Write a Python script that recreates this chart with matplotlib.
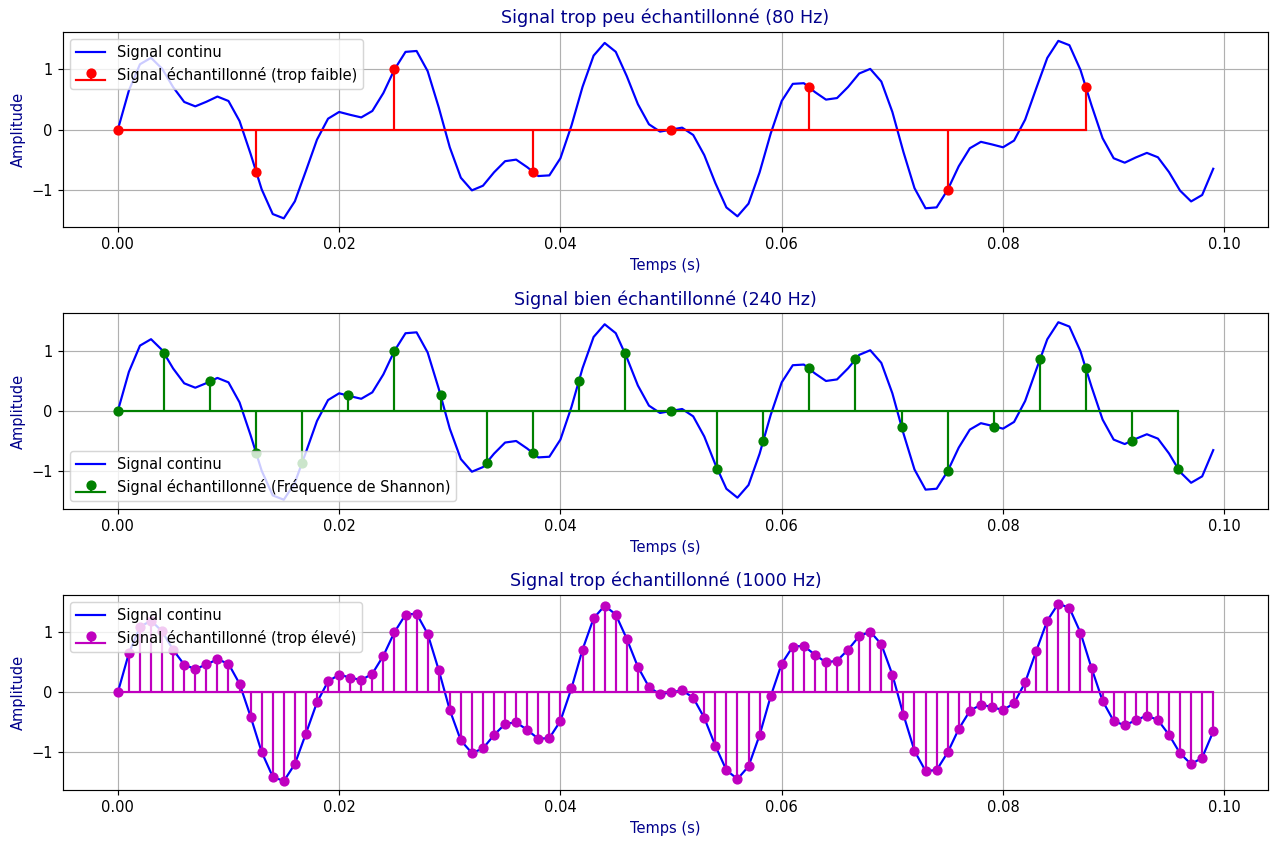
import numpy as np
import matplotlib
matplotlib.use("Agg")
import matplotlib.pyplot as plt

# Continuous signal, tabulated every millisecond (0 .. 0.099 s)
fs_cont = 1000
signal_continu = [
    0.000, 0.651, 1.087, 1.194, 1.014, 0.706, 0.460, 0.387, 0.463, 0.550,
    0.476, 0.143, -0.404, -0.993, -1.404, -1.476, -1.192, -0.685, -0.166, 0.182,
    0.294, 0.246, 0.203, 0.310, 0.609, 1.000, 1.293, 1.308, 0.973, 0.372,
    -0.294, -0.800, -1.010, -0.933, -0.710, -0.525, -0.499, -0.625, -0.772, -0.761,
    -0.476, 0.068, 0.712, 1.231, 1.442, 1.294, 0.888, 0.424, 0.089, -0.033,
    0.000, 0.033, -0.089, -0.424, -0.888, -1.294, -1.442, -1.231, -0.712, -0.068,
    0.476, 0.761, 0.772, 0.625, 0.499, 0.525, 0.710, 0.933, 1.010, 0.800,
    0.294, -0.372, -0.973, -1.308, -1.293, -1.000, -0.609, -0.310, -0.203, -0.246,
    -0.294, -0.182, 0.166, 0.685, 1.192, 1.476, 1.404, 0.993, 0.404, -0.143,
    -0.476, -0.550, -0.463, -0.387, -0.460, -0.706, -1.014, -1.194, -1.087, -0.651,
]

# Samples taken at 80 Hz
fs_faible = 80
ech_faible = [0.000, -0.707, 1.000, -0.707, 0.000, 0.707, -1.000, 0.707]

# Samples taken at 240 Hz
fs_shannon = 240
ech_shannon = [
    0.000, 0.966, 0.500, -0.707, -0.866, 0.259, 1.000, 0.259,
    -0.866, -0.707, 0.500, 0.966, 0.000, -0.966, -0.500, 0.707,
    0.866, -0.259, -1.000, -0.259, 0.866, 0.707, -0.500, -0.966,
]

# Samples taken at 1000 Hz (same instants as the tabulated signal)
fs_eleve = 1000
ech_eleve = list(signal_continu)

t_cont = np.arange(len(signal_continu)) / fs_cont
t_faible = np.arange(len(ech_faible)) / fs_faible
t_shannon = np.arange(len(ech_shannon)) / fs_shannon
t_eleve = np.arange(len(ech_eleve)) / fs_eleve

panels = [
    (t_faible, ech_faible, "r", "Signal échantillonné (trop faible)",
     "Signal trop peu échantillonné (80 Hz)", "upper left"),
    (t_shannon, ech_shannon, "g", "Signal échantillonné (Fréquence de Shannon)",
     "Signal bien échantillonné (240 Hz)", "lower left"),
    (t_eleve, ech_eleve, "m", "Signal échantillonné (trop élevé)",
     "Signal trop échantillonné (1000 Hz)", "upper left"),
]

dpi = 105
fig, axes = plt.subplots(3, 1, figsize=(1274 / dpi, 842 / dpi), dpi=dpi)
fig.subplots_adjust(left=0.0495, right=0.9953, top=0.962, bottom=0.0618, hspace=0.441)

text_color = "darkblue"
for ax, (ts, vals, c, lab, title, loc) in zip(axes, panels):
    ax.plot(t_cont, signal_continu, "b-", label="Signal continu")
    ax.stem(ts, vals, linefmt=c + "-", markerfmt=c + "o", basefmt=c + "-", label=lab)
    ax.set_title(title, color=text_color)
    ax.set_xlabel("Temps (s)", color=text_color)
    ax.set_ylabel("Amplitude", color=text_color)
    ax.set_yticks([-1, 0, 1])
    ax.grid(True)
    ax.legend(loc=loc)

fig.savefig("out.png", dpi=dpi)
